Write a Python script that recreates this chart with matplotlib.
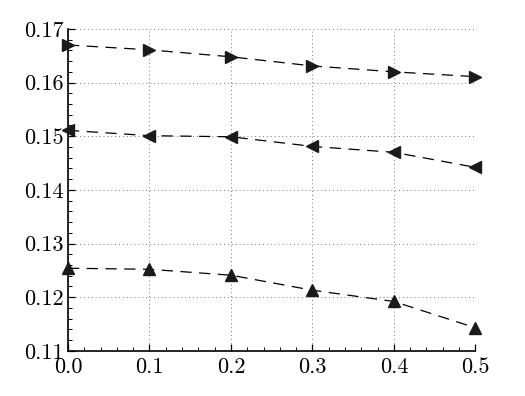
import matplotlib
matplotlib.use("Agg")
import matplotlib.pyplot as plt
from matplotlib.ticker import MultipleLocator

plt.rcParams['font.family'] = ['cmr10', 'DejaVu Serif']
plt.rcParams['axes.formatter.use_mathtext'] = True
plt.rcParams['mathtext.fontset'] = 'cm'

x = [0.0, 0.1, 0.2, 0.3, 0.4, 0.5]
top = [0.167, 0.1661, 0.1648, 0.1631, 0.1620, 0.1611]
mid = [0.1511, 0.1501, 0.1499, 0.1481, 0.1470, 0.1442]
low = [0.1254, 0.1252, 0.1241, 0.1213, 0.1192, 0.1143]

xticks = [0.0, 0.1, 0.2, 0.3, 0.4, 0.5]
xlabels = ['0.0', '0.1', '0.2', '0.3', '0.4', '0.5']
yticks = [0.11, 0.12, 0.13, 0.14, 0.15, 0.16, 0.17]
ylabels = ['0.11', '0.12', '0.13', '0.14', '0.15', '0.16', '0.17']

fig = plt.figure(figsize=(5.25, 3.96), dpi=100)
ax = fig.add_axes([0.1295, 0.114, 0.776, 0.813])

for ys, mk in [(top, '>'), (mid, '<'), (low, '^')]:
    ax.plot(x, ys, color='black', lw=0.9, dashes=(9, 6), marker=mk,
            markersize=8, markerfacecolor='#1a1a1a', markeredgecolor='#1a1a1a',
            clip_on=False, zorder=3)

ax.set_xlim(0, 0.5)
ax.set_ylim(0.11, 0.17)
ax.set_xticks(xticks, xlabels)
ax.set_yticks(yticks, ylabels)
ax.xaxis.set_minor_locator(MultipleLocator(0.02))
ax.yaxis.set_minor_locator(MultipleLocator(0.002))

ax.spines['top'].set_visible(False)
ax.spines['right'].set_visible(False)
ax.spines['left'].set_linewidth(1.2)
ax.spines['bottom'].set_linewidth(1.2)
ax.tick_params(which='both', direction='in', top=False, right=False, labelsize=16)
ax.tick_params(which='major', length=5, width=0.9)
ax.tick_params(which='minor', length=3, width=0.7)
ax.tick_params(axis='x', pad=5)
ax.tick_params(axis='y', pad=3)
ax.grid(True, which='major', linestyle=(0, (1, 3)), color='#777777', lw=0.7)

fig.savefig('out.png', dpi=100)
